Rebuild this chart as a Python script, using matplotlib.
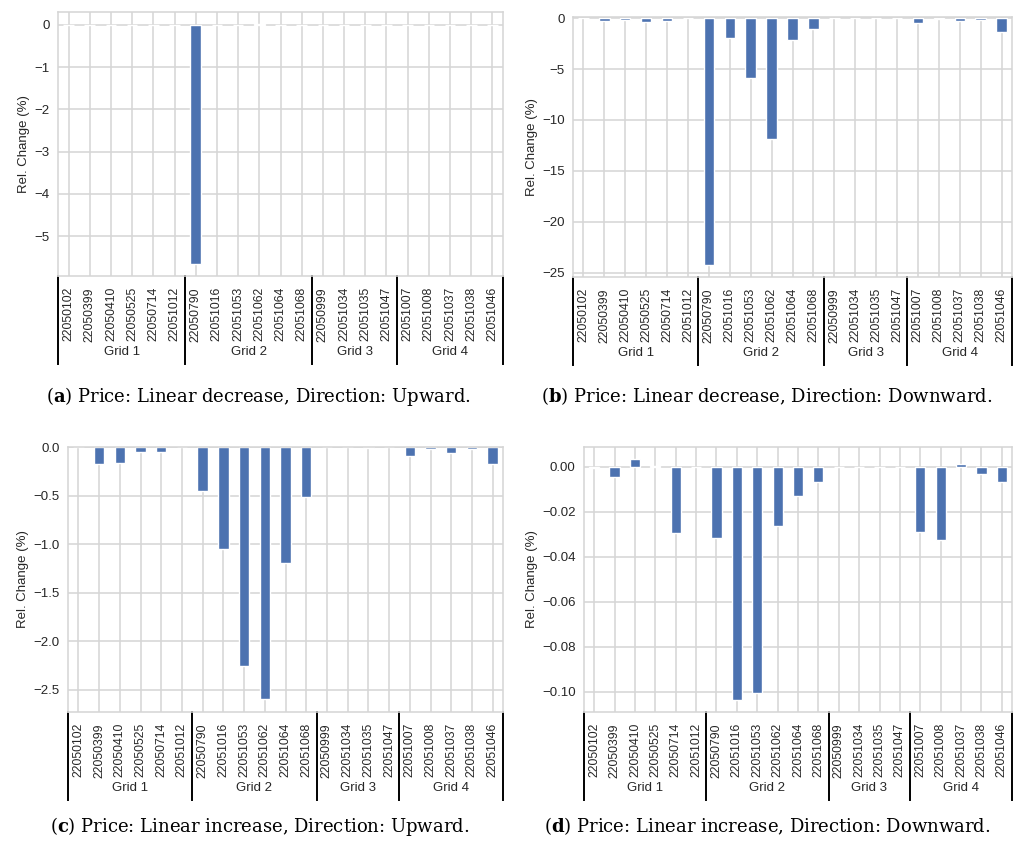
import matplotlib
matplotlib.use("Agg")
import matplotlib.pyplot as plt
import matplotlib.transforms as mtransforms
import numpy as np

# ---- data ----
stations = ["22050102", "22050399", "22050410", "22050525", "22050714", "22051012",
            "22050790", "22051016", "22051053", "22051062", "22051064", "22051068",
            "22050999", "22051034", "22051035", "22051047",
            "22051007", "22051008", "22051037", "22051038", "22051046"]
group_names = ["Grid 1", "Grid 2", "Grid 3", "Grid 4"]
group_sizes = [6, 6, 4, 5]

dec_up = [0, 0, 0, 0, 0, 0,
          -5.66, -0.01, 0, 0.02, -0.01, 0,
          0, 0, 0, 0,
          0, 0, 0, 0, 0]
dec_down = [0, -0.25, -0.15, -0.35, -0.25, 0,
            -24.2, -2.0, -5.85, -11.9, -2.2, -1.1,
            0, 0, 0, 0,
            -0.5, -0.1, -0.25, -0.15, -1.35]
inc_up = [0, -0.18, -0.16, -0.05, -0.05, 0,
          -0.45, -1.05, -2.26, -2.6, -1.2, -0.51,
          0, 0, -0.01, 0,
          -0.09, -0.025, -0.06, -0.025, -0.18]
inc_down = [-0.0005, -0.0047, 0.0034, 0.0005, -0.0296, 0,
            -0.0315, -0.1036, -0.1003, -0.0263, -0.0132, -0.007,
            0, 0, 0, 0,
            -0.029, -0.0327, 0.0012, -0.0033, -0.007]

captions = [("a", "Price: Linear decrease, Direction: Upward."),
            ("b", "Price: Linear decrease, Direction: Downward."),
            ("c", "Price: Linear increase, Direction: Upward."),
            ("d", "Price: Linear increase, Direction: Downward.")]

plt.rcParams["font.family"] = ["Liberation Sans", "DejaVu Sans"]
plt.rcParams["mathtext.fontset"] = "custom"
plt.rcParams["mathtext.rm"] = "DejaVu Serif"
plt.rcParams["mathtext.bf"] = "DejaVu Serif:bold"

W, H = 1014, 846
fig = plt.figure(figsize=(W / 100, H / 100), dpi=100)

# pixel boxes: left, top, right, bottom, separator bottom, group label y, caption x, caption y
panels = [
    (58, 12, 503, 276, 364, 352, 258, 396),
    (573, 17, 1012, 277, 365, 353, 767, 396),
    (68, 447, 503, 712, 800, 788, 260, 826),
    (584, 447, 1012, 712, 800, 788, 767, 826),
]
series = [dec_up, dec_down, inc_up, inc_down]
ylims = [None, (-25.4, 0.1), None, None]

x = np.arange(len(stations))
bounds = np.concatenate([[0], np.cumsum(group_sizes)]) - 0.5

for (l, t, r, b, sep_b, grp_y, cx, cy), vals, yl, (letter, text) in zip(panels, series, ylims, captions):
    ax = fig.add_axes([l / W, 1 - b / H, (r - l) / W, (b - t) / H])
    ax.set_facecolor("white")
    ax.bar(x, vals, width=0.5, color="#4C72B0", edgecolor="white", linewidth=1, zorder=2)
    ax.set_xlim(-0.5, len(stations) - 0.5)
    if yl is not None:
        ax.set_ylim(*yl)
    ax.set_xticks(x)
    ax.set_xticklabels(stations, rotation=90, fontsize=8.8, color="#262626")
    ax.tick_params(axis="both", length=0, colors="#262626")
    ax.tick_params(axis="y", labelsize=9.5, pad=6)
    ax.tick_params(axis="x", pad=8)
    ax.grid(True, color="#d5d5d5", linewidth=1.1, zorder=0)
    ax.set_axisbelow(True)
    for sp in ax.spines.values():
        sp.set_color("#d5d5d5")
        sp.set_linewidth(1.1)
    ax.set_ylabel("Rel. Change (%)", fontsize=9.5, color="#262626", labelpad=3)

    # group separators and labels below the tick labels
    trans = mtransforms.blended_transform_factory(ax.transData, ax.transAxes)
    sep_y = -(sep_b - b) / (b - t)
    for bx in bounds:
        ax.plot([bx, bx], [0, sep_y], color="black", linewidth=1.4,
                transform=trans, clip_on=False)
    lab_y = -(grp_y - b) / (b - t)
    for i, name in enumerate(group_names):
        mid = (bounds[i] + bounds[i + 1]) / 2
        ax.text(mid, lab_y, name, transform=trans, ha="center", va="center",
                fontsize=9.5, color="#262626")

    fig.text(cx / W, 1 - cy / H, "(" + r"$\mathbf{" + letter + "}$" + ") " + text,
             ha="center", va="center", fontsize=13,
             family=["DejaVu Serif"])

fig.savefig("out.png", dpi=100)
